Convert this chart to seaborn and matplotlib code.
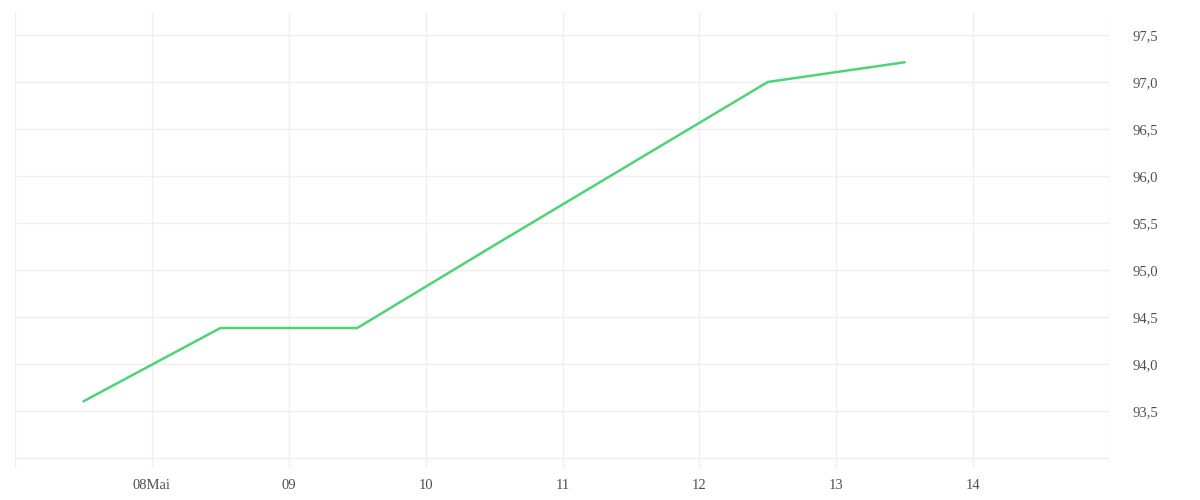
import pandas as pd
import numpy as np
import matplotlib
matplotlib.use("Agg")
import matplotlib.pyplot as plt
import matplotlib.dates as mdates
from matplotlib.ticker import FuncFormatter, FixedLocator
import seaborn as sns

# data (one point per day, at noon)
dates = pd.date_range("2024-05-07 12:00", periods=7, freq="D")
values = [93.6, 94.38, 94.38, 95.26, 96.13, 97.0, 97.21]

# axis ticks
x_grid_days = pd.date_range("2024-05-07", "2024-05-15", freq="D")
x_label_days = pd.date_range("2024-05-08", "2024-05-14", freq="D")
x_labels = ["08Mai", "09", "10", "11", "12", "13", "14"]
y_grid = [93.0, 93.5, 94.0, 94.5, 95.0, 95.5, 96.0, 96.5, 97.0, 97.5]
y_labels = ["", "93,5", "94,0", "94,5", "95,0", "95,5", "96,0", "96,5", "97,0", "97,5"]

df = pd.DataFrame({"date": dates, "value": values})

sns.set_style("white")
plt.rcParams["font.family"] = ["Liberation Serif", "DejaVu Serif"]

fig = plt.figure(figsize=(12, 5), dpi=100)
ax = fig.add_axes([0.0125, 0.064, 0.9125, 0.912])

sns.lineplot(data=df, x="date", y="value", color="#4ED474", linewidth=1.8, ax=ax)

ax.set_xlim(mdates.date2num(x_grid_days[0]), mdates.date2num(x_grid_days[-1]))
ax.set_ylim(92.89, 97.745)

# grid lines on every day / every half unit
for d in x_grid_days:
    ax.axvline(d, color="#efefef", linewidth=1, zorder=0)
for v in y_grid:
    ax.axhline(v, color="#efefef", linewidth=1, zorder=0)

ax.xaxis.set_major_locator(FixedLocator(mdates.date2num(x_label_days)))
ax.xaxis.set_major_formatter(FuncFormatter(lambda v, p: x_labels[p] if p is not None and p < len(x_labels) else ""))
ax.yaxis.set_major_locator(FixedLocator(y_grid))
ax.yaxis.set_major_formatter(FuncFormatter(lambda v, p: y_labels[p] if p is not None and p < len(y_labels) else ""))

ax.yaxis.tick_right()
ax.tick_params(axis="both", length=0, labelsize=10.5, colors="#505050")
ax.tick_params(axis="y", pad=16)
ax.tick_params(axis="x", pad=8)
ax.set_xlabel("")
ax.set_ylabel("")
for s in ax.spines.values():
    s.set_visible(False)

fig.savefig("out.png", dpi=100)
